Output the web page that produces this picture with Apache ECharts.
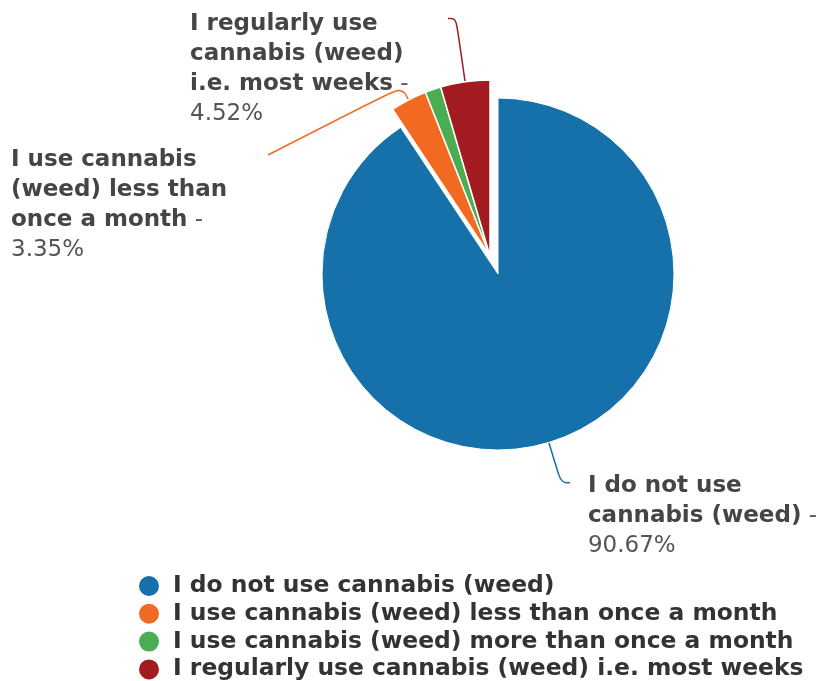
<!DOCTYPE html>
<html>
<head>
<meta charset="utf-8">
<script src="https://cdn.jsdelivr.net/npm/echarts@6/dist/echarts.min.js"></script>
<style>
  html, body { margin: 0; padding: 0; background: #ffffff; }
  #chart { width: 824px; height: 681px; }
</style>
</head>
<body>
<div id="chart"></div>
<script>
// Survey answers and their shares (%)
const categories = [
  'I do not use cannabis (weed)',
  'I use cannabis (weed) less than once a month',
  'I use cannabis (weed) more than once a month',
  'I regularly use cannabis (weed) i.e. most weeks'
];
const shares = [90.67, 3.35, 1.46, 4.52];

const colors = ['#1670a9', '#f26a21', '#4aad52', '#a11b20'];
const FONT = 'DejaVu Sans';
const LABEL_SIZE = 23;
const WRAP_WIDTH = 245;

const minorTotal = shares.slice(1).reduce((a, b) => a + b, 0);

// word-wrap a label name to the given pixel width (bold label font)
const measureCtx = document.createElement('canvas').getContext('2d');
function wrapWords(text, maxWidth) {
  measureCtx.font = 'bold ' + LABEL_SIZE + 'px "' + FONT + '"';
  const lines = [];
  let cur = '';
  text.split(' ').forEach(w => {
    const test = cur ? cur + ' ' + w : w;
    if (cur && measureCtx.measureText(test).width > maxWidth) {
      lines.push(cur);
      cur = w;
    } else {
      cur = test;
    }
  });
  lines.push(cur);
  return lines;
}

const labelBase = {
  show: true,
  position: 'outside',
  fontFamily: FONT,
  fontSize: LABEL_SIZE,
  lineHeight: 30,
  color: '#454545',
  overflow: 'none',
  formatter: p => wrapWords(p.name, WRAP_WIDTH).map(l => '{n|' + l + '}').join('\n') +
    '{v| -}\n{v|' + p.value.toFixed(2) + '%}',
  rich: {
    n: { fontFamily: FONT, fontWeight: 'bold', fontSize: LABEL_SIZE, lineHeight: 30, color: '#454545', align: 'left' },
    v: { fontFamily: FONT, fontWeight: 'normal', fontSize: LABEL_SIZE, lineHeight: 30, color: '#555555', align: 'left' }
  }
};
const lineBase = { show: true, smooth: 0.4, lineStyle: { width: 1.5 } };

// slot reserved for the slices drawn by the other ring
function gap(value) {
  return {
    name: '', value: value,
    itemStyle: { color: 'transparent', borderWidth: 0 },
    label: { show: false }, labelLine: { show: false },
    emphasis: { disabled: true }
  };
}

// orange label sits on the far left; its guide line bends down to it
const orangeLabelAt = { x: 268, y: 155 };

const option = {
  animation: false,
  backgroundColor: '#ffffff',
  legend: {
    data: categories,
    orient: 'vertical',
    left: 137,
    top: 574,
    height: 125,
    padding: 0,
    icon: 'circle',
    itemWidth: 38,
    itemHeight: 22,
    itemGap: 3.8,
    selectedMode: false,
    textStyle: { fontFamily: FONT, fontWeight: 'bold', fontSize: 23.4, lineHeight: 22, color: '#333333' }
  },
  series: [
    {
      // main slice
      type: 'pie',
      center: [498, 274],
      radius: 176,
      startAngle: 90,
      clockwise: true,
      avoidLabelOverlap: false,
      itemStyle: { borderColor: '#ffffff', borderWidth: 1 },
      label: labelBase,
      labelLine: lineBase,
      data: [
        {
          name: categories[0], value: shares[0],
          itemStyle: { color: colors[0] },
          label: { width: 240, padding: [67, 0, 0, 0], distanceToLabelLine: 18 },
          labelLine: { length: 42, length2: 9, lineStyle: { color: colors[0] } }
        },
        gap(minorTotal)
      ]
    },
    {
      // pulled-out minor slices
      type: 'pie',
      center: [490, 256],
      radius: 176,
      startAngle: 90,
      clockwise: true,
      avoidLabelOverlap: false,
      itemStyle: { borderColor: '#ffffff', borderWidth: 1.5 },
      label: labelBase,
      labelLine: lineBase,
      data: [
        gap(shares[0]),
        {
          name: categories[1], value: shares[1],
          itemStyle: { color: colors[1] },
          label: { width: 250, padding: [100, 7, 0, 0] },
          labelLine: { length: 15, length2: 10, lineStyle: { color: colors[1] } }
        },
        {
          name: categories[2], value: shares[2],
          itemStyle: { color: colors[2] },
          label: { show: false }, labelLine: { show: false }
        },
        {
          name: categories[3], value: shares[3],
          itemStyle: { color: colors[3] },
          label: { width: 252, padding: [101, 0, 0, 0], distanceToLabelLine: 6 },
          labelLine: { length: 64, length2: 8, lineStyle: { color: colors[3] } }
        }
      ],
      labelLayout: function (p) {
        if (p.dataIndex !== 1) return {};
        const res = { x: orangeLabelAt.x, y: orangeLabelAt.y, align: 'right', verticalAlign: 'middle' };
        const pts = p.labelLinePoints;
        if (pts && pts.length >= 2) {
          res.labelLinePoints = [pts[0].slice(), pts[1].slice(), [orangeLabelAt.x, orangeLabelAt.y]];
        }
        return res;
      }
    }
  ]
};

const chart = echarts.init(document.getElementById('chart'), null, { renderer: 'canvas' });
chart.setOption(option);
</script>
</body>
</html>
